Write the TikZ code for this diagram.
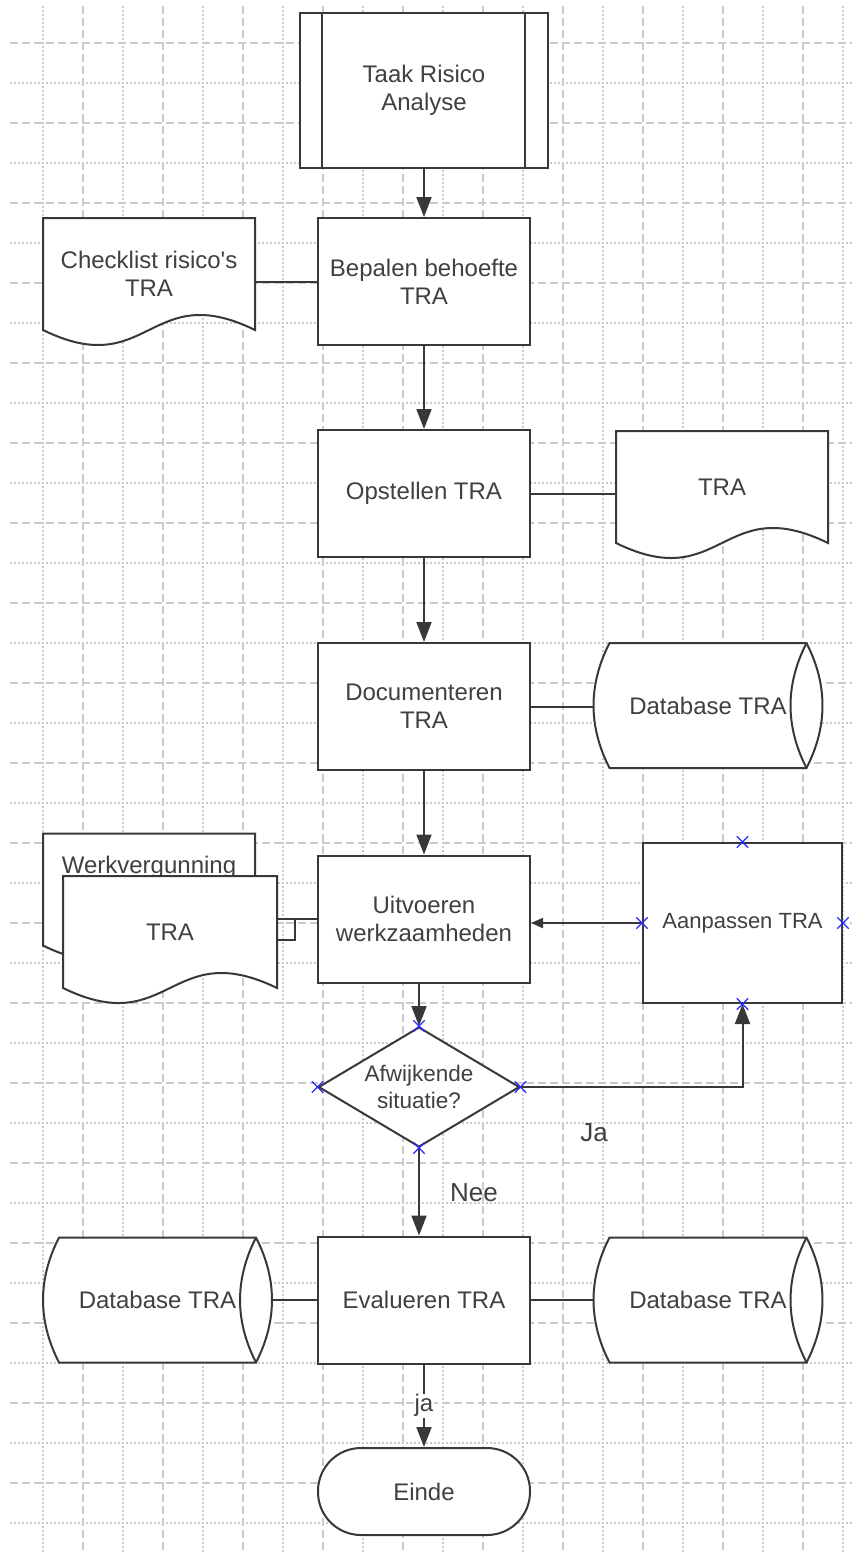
\documentclass[tikz,border=0pt]{standalone}
\usepackage{xcolor}
\usepackage{fontspec}
\setmainfont{Liberation Sans}
\usepackage{tikz}
\usetikzlibrary{arrows.meta,shapes.geometric,shapes.misc,calc}

\definecolor{lijn}{HTML}{383838}
\definecolor{tekst}{HTML}{404040}
\definecolor{raster}{HTML}{CACACA}
\definecolor{punt}{HTML}{2828FF}

% document: #1 breedte, #2 naam, #3 x, #4 y (midden zonder golf), #5 tekst
\newcommand{\tekendoc}[5][212]{%
 \draw [rand, fill=white] (#3-#1/2, #4+56) -- (#3-#1/2, #4-56) -- (#3+#1/2, #4-56) -- (#3+#1/2, #4+56)
   .. controls (#3, #4+4) and (#3, #4+108) .. (#3-#1/2, #4+56) -- cycle;
 \node [docvak, minimum width=#1pt] (#2) at (#3, #4) {#5};
}

% database (liggende cilinder): #1 naam, #2 x, #3 y, #4 tekst
\newcommand{\tekendb}[4]{%
 \draw [rand, fill=white] (#2-98.5, #3-62.5) -- (#2+98.5, #3-62.5)
   .. controls (#2+119.8, #3-20.8) and (#2+119.8, #3+20.8) .. (#2+98.5, #3+62.5)
   -- (#2-98.5, #3+62.5)
   .. controls (#2-119.8, #3+20.8) and (#2-119.8, #3-20.8) .. (#2-98.5, #3-62.5) -- cycle;
 \draw [rand] (#2+98.5, #3-62.5) .. controls (#2+77.2, #3-20.8) and (#2+77.2, #3+20.8) .. (#2+98.5, #3+62.5);
 \node [docvak, minimum width=229pt, minimum height=125pt] (#1) at (#2, #3) {#4};
}

\begin{document}
\begin{tikzpicture}[x=1pt, y=-1pt,
 rand/.style={draw=lijn, line width=2pt},
 tekstvorm/.style={text=tekst, align=center, font=\fontsize{24}{28}\selectfont},
 vak/.style={rand, tekstvorm, fill=white, minimum width=212pt, minimum height=127pt, inner sep=2pt},
 docvak/.style={tekstvorm, minimum height=112pt, inner sep=2pt},
 keuzevorm/.style={diamond, rand, tekstvorm, fill=white, aspect=1.675, inner sep=0pt, minimum width=201pt, minimum height=120pt, font=\fontsize{22.5}{27}\selectfont},
 eindvorm/.style={vak, rounded corners=43pt, minimum height=87pt},
 markering/.style={cross out, draw=punt, line width=1.3pt, minimum size=10pt, inner sep=0pt},
 verbinding/.style={draw=lijn, line width=2pt},
 pijl/.style={verbinding, -{Triangle[length=20pt, width=15pt]}},
 pijlkort/.style={verbinding, -{Triangle[length=12pt, width=10pt]}},
 rasterstreep/.style={draw=raster, line width=1.5pt, dash pattern=on 8pt off 4pt},
 rasterpunt/.style={draw=raster, line width=1.5pt, dash pattern=on 2pt off 2pt},
 opmerking/.style={text=tekst, font=\fontsize{26}{30}\selectfont}]
 \useasboundingbox (0,0) rectangle (852,1552);

 % raster
 \foreach \x in {43,123,...,843} \draw [rasterpunt] (\x, 6) -- (\x, 1552);
 \foreach \x in {83,163,...,803} \draw [rasterstreep] (\x, 6) -- (\x, 1552);
 \foreach \y in {43,123,...,1483} \draw [rasterstreep] (10, \y) -- (852, \y);
 \foreach \y in {83,163,...,1523} \draw [rasterpunt] (10, \y) -- (852, \y);

 % stappen
 \node [vak, minimum width=248pt, minimum height=155pt] (taak) at (424, 90.5) {Taak Risico\\Analyse};
 \draw [rand] ([xshift=23pt]taak.north west) -- ([xshift=23pt]taak.south west);
 \draw [rand] ([xshift=-24pt]taak.north east) -- ([xshift=-24pt]taak.south east);

 \node [vak] (bepalen) at (424, 281.5) {Bepalen behoefte\\TRA};
 \tekendoc{checklist}{149}{274}{Checklist risico\textquotesingle s\\TRA}

 \node [vak] (opstellen) at (424, 493.5) {Opstellen TRA};
 \tekendoc{tradoc}{722}{487}{TRA}

 \node [vak] (documenteren) at (424, 706.5) {Documenteren\\TRA};
 \tekendb{dbdoc}{708}{705.5}{Database TRA}

 \node [vak] (uitvoeren) at (424, 919) {Uitvoeren\\werkzaamheden};
 \tekendoc{vergunning}{149}{889.5}{\raisebox{16pt}[0pt][0pt]{Werkvergunning}}
 \draw [verbinding] (uitvoeren.west) -- (uitvoeren.west -| vergunning.east);
 \tekendoc[214]{werktra}{170}{932}{TRA}
 \draw [verbinding] (uitvoeren.west) -- ++(-22,0) |- ([yshift=-8pt]werktra.east);

 \node [vak, minimum width=199pt, minimum height=160pt, font=\fontsize{22}{26}\selectfont] (aanpassen) at (742.5, 923) {Aanpassen TRA};
 \node [keuzevorm] (keuze) at (419, 1087) {Afwijkende\\situatie?};

 \node [vak] (evalueren) at (424, 1300) {Evalueren TRA};
 \tekendb{dblinks}{157.5}{1300}{Database TRA}
 \tekendb{dbrechts}{708}{1300}{Database TRA}

 \node [eindvorm] (einde) at (424, 1491.5) {Einde};

 % verbindingen
 \draw [pijl] (taak) -- (bepalen);
 \draw [verbinding] (bepalen.west) -- (bepalen.west -| checklist.east);
 \draw [pijl] (bepalen) -- (opstellen);
 \draw [verbinding] (opstellen.east) -- (opstellen.east -| tradoc.west);
 \draw [pijl] (opstellen) -- (documenteren);
 \draw [verbinding] (documenteren.east) -- (documenteren.east -| dbdoc.west);
 \draw [pijl] (documenteren) -- (uitvoeren);
 \draw [pijlkort] (aanpassen.west) -- (aanpassen.west -| uitvoeren.east);
 \draw [pijl] (uitvoeren.south -| keuze.north) -- (keuze.north);
 \draw [pijl] (keuze.east) -| (aanpassen.south);
 \draw [pijl] (keuze.south) -- (keuze.south |- evalueren.north);
 \draw [verbinding] (evalueren.west) -- (evalueren.west -| dblinks.east);
 \draw [verbinding] (evalueren.east) -- (evalueren.east -| dbrechts.west);
 \draw [pijl] (evalueren) -- node [tekstvorm, fill=white, inner sep=1pt] (jalabel) {ja} (einde);

 \node [opmerking] (ja) at (594, 1133) {Ja};
 \node [opmerking] (nee) at (474, 1193) {Nee};

 % aansluitpunten
 \foreach \a in {north, south, east, west} {
  \node [markering] (keuze-\a) at (keuze.\a) {};
  \node [markering] (aanpassen-\a) at (aanpassen.\a) {};
 }
\end{tikzpicture}
\end{document}
